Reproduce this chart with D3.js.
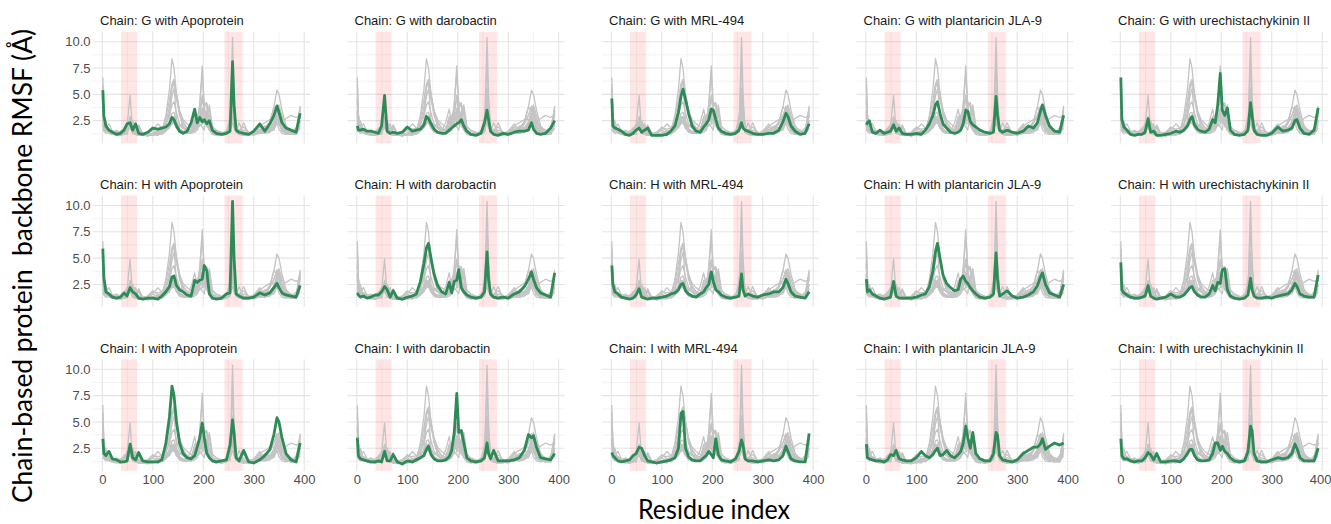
<!DOCTYPE html>
<html>
<head>
<meta charset="utf-8">
<script src="https://cdn.jsdelivr.net/npm/d3@7"></script>
<style>
  body { margin: 0; background: #fff; }
  svg text { font-family: "Liberation Sans", Arial, sans-serif; }
</style>
</head>
<body>
<div id="chart"></div>
<script>
// residue positions sampled along each trace
var residues = [1, 3, 7, 13, 20, 28, 36, 43, 49, 55,
    60, 66, 72, 80, 90, 100, 110, 118, 126, 133,
    138, 142, 147, 153, 160, 168, 176, 183, 188, 193,
    198, 202, 207, 212, 218, 226, 236, 246, 253, 258,
    261, 265, 271, 280, 290, 300, 312, 322, 332, 340,
    346, 350, 356, 364, 374, 384, 392];

var chains  = ['G', 'H', 'I'];
var ligands = ['Apoprotein', 'darobactin', 'MRL-494', 'plantaricin JLA-9', 'urechistachykinin II'];

// backbone RMSF (A), one array per chain / ligand
var gApo = [5.4, 3.0, 2.0, 1.6, 1.4, 1.2, 1.3, 1.6, 2.2, 2.3,
    1.6, 2.2, 1.3, 1.2, 1.4, 1.8, 1.7, 1.8, 1.9, 2.2,
    2.8, 2.6, 2.0, 1.5, 1.3, 1.5, 2.3, 3.6, 2.3, 2.8,
    2.4, 2.6, 2.2, 2.5, 1.6, 1.3, 1.2, 1.3, 1.5, 8.1,
    4.0, 1.6, 1.4, 1.3, 1.2, 1.5, 2.2, 1.5, 2.2, 3.0,
    3.9, 3.3, 2.3, 1.8, 1.6, 1.4, 3.2];
var gDaro = [2.0, 1.6, 1.6, 1.7, 1.5, 1.5, 1.4, 1.3, 2.0, 4.9,
    1.5, 1.3, 1.4, 1.3, 1.4, 1.9, 1.5, 1.6, 1.7, 2.1,
    2.9, 2.7, 2.2, 1.7, 1.4, 1.3, 1.3, 1.6, 1.8, 2.0,
    2.2, 2.3, 2.6, 2.0, 1.5, 1.2, 1.1, 1.3, 2.3, 3.5,
    2.6, 1.5, 1.2, 1.1, 1.3, 1.2, 1.4, 1.5, 1.5, 1.6,
    2.3, 1.7, 1.3, 1.2, 1.3, 1.8, 2.5];
var gMrl = [4.6, 2.0, 1.8, 1.7, 1.5, 1.2, 1.1, 1.3, 1.6, 1.8,
    1.4, 1.6, 1.8, 1.1, 1.1, 1.1, 1.2, 1.5, 2.0, 3.3,
    4.8, 5.5, 4.5, 3.2, 2.0, 1.5, 1.4, 1.9, 2.2, 2.6,
    3.6, 3.5, 2.6, 1.8, 1.5, 1.3, 1.2, 1.3, 1.6, 2.3,
    1.8, 1.6, 1.5, 1.3, 1.2, 1.2, 1.3, 1.3, 1.6, 2.4,
    3.2, 2.9, 2.0, 1.5, 1.2, 1.3, 2.2];
var gPlant = [2.1, 2.3, 2.5, 1.4, 1.3, 1.6, 1.3, 1.4, 1.5, 2.1,
    1.5, 1.8, 1.3, 1.2, 1.2, 1.3, 1.2, 1.6, 2.2, 3.0,
    4.0, 4.3, 3.2, 2.2, 1.8, 1.4, 1.3, 1.4, 1.6, 2.2,
    3.5, 3.4, 2.4, 2.1, 1.9, 1.6, 1.4, 1.3, 1.4, 4.8,
    3.0, 1.6, 1.4, 1.6, 1.4, 1.3, 1.5, 2.0, 1.8, 2.3,
    3.4, 4.0, 3.0, 2.0, 1.5, 1.4, 3.0];
var gUrech = [6.6, 2.6, 1.9, 1.6, 1.2, 1.1, 1.2, 1.2, 1.4, 2.7,
    1.4, 1.5, 1.1, 1.1, 1.2, 1.3, 1.5, 1.4, 1.6, 2.0,
    2.6, 2.9, 2.1, 1.7, 1.5, 1.4, 1.7, 2.6, 2.3, 4.0,
    7.0, 3.5, 3.0, 3.7, 1.6, 1.2, 1.1, 1.2, 1.6, 4.2,
    3.0, 1.6, 1.2, 1.1, 1.1, 1.3, 1.9, 1.5, 1.6, 1.8,
    2.5, 2.6, 1.8, 1.3, 1.2, 1.6, 3.7];
var hApo = [5.9, 3.2, 1.8, 1.6, 1.3, 1.2, 1.3, 1.7, 1.4, 2.2,
    1.8, 1.6, 1.2, 1.1, 1.2, 1.2, 1.1, 1.4, 1.8, 2.3,
    3.2, 3.3, 2.4, 2.0, 1.8, 1.5, 1.4, 2.9, 2.7, 2.9,
    3.0, 4.3, 3.8, 1.6, 1.2, 1.1, 1.2, 1.6, 1.7, 10.4,
    5.0, 1.6, 1.4, 1.2, 1.2, 1.3, 1.7, 1.5, 1.7, 2.2,
    2.6, 2.2, 1.7, 1.5, 1.4, 1.3, 2.4];
var hDaro = [1.7, 1.5, 1.3, 1.4, 1.2, 1.3, 1.5, 1.5, 1.8, 2.3,
    2.0, 1.3, 1.9, 1.2, 1.1, 1.3, 1.4, 1.6, 2.8, 4.5,
    6.0, 6.4, 5.0, 3.5, 2.4, 1.8, 1.6, 2.7, 1.7, 2.8,
    2.9, 3.9, 2.2, 1.8, 1.5, 1.3, 1.2, 1.3, 1.8, 5.6,
    3.0, 1.6, 1.3, 1.2, 1.3, 1.2, 1.6, 1.8, 2.3, 3.0,
    3.7, 3.0, 2.2, 1.7, 1.5, 1.3, 3.6];
var hMrl = [4.3, 2.5, 1.8, 1.6, 1.3, 1.2, 1.1, 1.2, 1.5, 2.1,
    1.3, 1.2, 1.1, 1.2, 1.2, 1.3, 1.4, 1.6, 1.7, 2.0,
    2.5, 2.6, 1.9, 1.6, 1.4, 1.3, 1.6, 1.8, 2.2, 2.5,
    3.7, 2.8, 2.0, 1.8, 1.5, 1.3, 1.2, 1.3, 1.4, 3.5,
    2.0, 1.4, 1.6, 1.4, 1.3, 1.5, 1.6, 1.8, 1.8, 2.2,
    3.0, 2.6, 1.8, 1.4, 1.3, 1.2, 1.8];
var hPlant = [3.0, 1.8, 2.0, 1.6, 1.4, 1.2, 1.1, 1.2, 1.3, 2.8,
    1.4, 1.2, 1.2, 1.2, 1.2, 1.3, 1.5, 1.6, 2.3, 3.8,
    5.6, 6.4, 5.0, 3.4, 2.6, 2.2, 1.9, 2.0, 3.0, 3.3,
    2.8, 2.6, 2.2, 1.9, 1.6, 1.3, 1.2, 1.3, 1.6, 5.5,
    3.0, 1.4, 1.6, 1.9, 1.4, 1.2, 1.3, 1.5, 1.8, 2.4,
    3.2, 3.6, 2.5, 1.7, 1.5, 1.3, 2.5];
var hUrech = [4.6, 2.0, 1.7, 1.5, 1.3, 1.2, 1.2, 1.3, 1.4, 2.4,
    1.4, 1.2, 1.1, 1.2, 1.3, 1.6, 1.3, 1.3, 1.5, 1.9,
    2.2, 2.3, 1.8, 1.5, 1.3, 1.3, 1.6, 2.4, 1.9, 2.7,
    2.6, 3.9, 4.0, 2.0, 1.4, 1.2, 1.1, 1.2, 1.5, 3.1,
    2.0, 1.4, 1.2, 1.2, 1.3, 1.2, 1.4, 1.5, 1.6, 2.0,
    2.6, 2.3, 1.6, 1.4, 1.3, 1.3, 3.4];
var iApo = [3.4, 2.0, 1.8, 2.2, 1.5, 1.4, 1.2, 1.2, 1.3, 2.9,
    1.6, 1.4, 2.1, 1.3, 1.2, 1.2, 1.2, 1.4, 3.0, 5.5,
    8.4, 7.5, 5.0, 3.0, 2.0, 1.6, 1.5, 1.8, 2.6, 3.5,
    4.9, 3.5, 2.0, 1.6, 1.3, 1.2, 1.3, 1.4, 2.8, 5.2,
    4.0, 1.6, 1.3, 2.3, 1.2, 1.1, 1.4, 1.8, 2.4, 3.8,
    5.4, 5.0, 3.5, 2.0, 1.4, 1.2, 3.0];
var iDaro = [3.5, 1.8, 1.5, 1.4, 1.3, 1.2, 1.2, 1.3, 1.2, 2.2,
    1.3, 1.3, 1.9, 1.2, 1.0, 1.3, 1.2, 1.4, 1.6, 1.8,
    2.4, 2.7, 1.9, 1.5, 1.3, 1.3, 1.4, 1.7, 2.3, 4.0,
    7.7, 4.0, 4.2, 3.0, 1.6, 1.3, 1.2, 1.3, 1.6, 3.0,
    2.0, 1.5, 2.3, 1.3, 1.3, 1.3, 1.4, 1.6, 2.3, 3.8,
    3.5, 3.7, 2.6, 1.6, 1.5, 1.4, 2.0];
var iMrl = [2.1, 1.8, 1.6, 1.3, 1.2, 1.3, 1.4, 1.8, 2.0, 2.6,
    2.5, 1.8, 1.3, 1.2, 1.1, 1.2, 1.3, 1.4, 1.6, 2.5,
    5.8, 6.0, 2.5, 1.7, 1.4, 1.3, 1.3, 1.6, 1.8, 2.2,
    1.9, 1.6, 3.4, 1.9, 1.4, 1.3, 1.2, 1.5, 2.2, 3.3,
    2.8, 1.5, 1.3, 1.3, 1.2, 1.3, 1.4, 1.3, 1.4, 1.8,
    2.7, 2.2, 1.5, 1.3, 1.2, 1.2, 3.9];
var iPlant = [2.9, 1.6, 1.5, 1.4, 1.3, 1.3, 1.2, 1.4, 1.9, 1.8,
    2.3, 1.5, 1.4, 1.3, 1.3, 1.6, 2.2, 1.8, 1.6, 1.9,
    2.3, 2.5, 1.8, 1.9, 2.3, 1.8, 1.6, 1.9, 2.2, 3.0,
    4.6, 3.5, 2.5, 4.0, 2.0, 1.5, 1.3, 1.3, 2.0, 4.0,
    3.7, 1.8, 1.4, 1.3, 1.2, 1.4, 2.0, 2.3, 2.6, 2.6,
    2.9, 3.4, 2.4, 2.7, 3.0, 2.8, 3.0];
var iUrech = [3.4, 1.8, 1.5, 1.5, 1.3, 1.2, 1.3, 1.3, 1.6, 2.1,
    1.9, 1.4, 2.0, 1.2, 1.2, 1.3, 1.3, 1.2, 1.5, 2.0,
    2.4, 2.4, 1.8, 1.4, 1.3, 1.3, 1.4, 2.0, 3.0, 3.0,
    2.3, 2.7, 2.2, 2.0, 1.6, 1.3, 1.2, 1.3, 2.2, 4.6,
    4.2, 2.0, 1.3, 1.2, 1.2, 1.4, 1.6, 1.5, 1.6, 2.0,
    2.9, 2.5, 1.6, 1.3, 1.3, 1.3, 2.5];

var rmsf = [
    [gApo, gDaro, gMrl, gPlant, gUrech],
    [hApo, hDaro, hMrl, hPlant, hUrech],
    [iApo, iDaro, iMrl, iPlant, iUrech]
];

// shaded residue windows
var bands = [[37, 69], [242, 278]];

var xTicks      = [0, 100, 200, 300, 400],
    xMinorTicks = [50, 150, 250, 350],
    yTicks      = [2.5, 5, 7.5, 10],
    yMinorTicks = [1.25, 3.75, 6.25, 8.75];

var width   = 1331,
    height  = 524,
    panelW  = 217,
    panelH  = 111.6,
    left0   = 93,
    top0    = 31.7,
    colStep = 254.5,
    rowStep = 163.8;

var svg = d3.select('#chart').append('svg')
    .attr('width', width)
    .attr('height', height);

var x = d3.scaleLinear().domain([-18.5, 411.5]).range([0, panelW]),
    y = d3.scaleLinear().domain([0.35, 10.95]).range([panelH, 0]);

var line = d3.line()
    .x(function(d) { return x(d[0]); })
    .y(function(d) { return y(d[1]); });

function toPoints(values) {
    return residues.map(function(r, i) { return [r, values[i]]; });
}

var allTraces = [];
rmsf.forEach(function(row) {
    row.forEach(function(v) { allTraces.push(toPoints(v)); });
});

chains.forEach(function(chain, r) {
    ligands.forEach(function(lig, c) {
        var g = svg.append('g')
            .attr('transform', 'translate(' + (left0 + c * colStep) + ',' + (top0 + r * rowStep) + ')');

        // minor grid
        g.selectAll('.xminor').data(xMinorTicks).enter().append('line')
            .attr('x1', x).attr('x2', x).attr('y1', 0).attr('y2', panelH)
            .style('stroke', '#f0f0f0').style('stroke-width', 0.8);
        g.selectAll('.yminor').data(yMinorTicks).enter().append('line')
            .attr('y1', y).attr('y2', y).attr('x1', 0).attr('x2', panelW)
            .style('stroke', '#f0f0f0').style('stroke-width', 0.8);
        // major grid
        g.selectAll('.xmajor').data(xTicks).enter().append('line')
            .attr('x1', x).attr('x2', x).attr('y1', 0).attr('y2', panelH)
            .style('stroke', '#e4e4e4').style('stroke-width', 1.1);
        g.selectAll('.ymajor').data(yTicks).enter().append('line')
            .attr('y1', y).attr('y2', y).attr('x1', 0).attr('x2', panelW)
            .style('stroke', '#e4e4e4').style('stroke-width', 1.1);

        g.selectAll('.band').data(bands).enter().append('rect')
            .attr('x', function(d) { return x(d[0]); })
            .attr('width', function(d) { return x(d[1]) - x(d[0]); })
            .attr('y', 0)
            .attr('height', panelH)
            .style('fill', '#ff0000')
            .style('fill-opacity', 0.1);

        g.selectAll('.others').data(allTraces).enter().append('path')
            .attr('d', line)
            .style('fill', 'none')
            .style('stroke', '#c4c4c4')
            .style('stroke-width', 1.3)
            .style('stroke-linejoin', 'round');

        g.append('path')
            .attr('d', line(toPoints(rmsf[r][c])))
            .style('fill', 'none')
            .style('stroke', '#2e8b57')
            .style('stroke-width', 2.8)
            .style('stroke-linejoin', 'round');

        g.append('text')
            .attr('x', 7)
            .attr('y', -6.5)
            .style('font-size', '13px')
            .style('fill', '#1a1a1a')
            .text('Chain: ' + chain + ' with ' + lig);

        if (c === 0) {
            var ya = g.append('g')
                .call(d3.axisLeft(y).tickValues(yTicks).tickFormat(d3.format('.1f')).tickSize(0).tickPadding(2.5));
            ya.select('.domain').remove();
            ya.selectAll('text').style('font-size', '13px').style('fill', '#4d4d4d')
                .style('font-family', '"Liberation Sans", Arial, sans-serif');
        }
        if (r === chains.length - 1) {
            var xa = g.append('g')
                .attr('transform', 'translate(0,' + panelH + ')')
                .call(d3.axisBottom(x).tickValues(xTicks).tickSize(0).tickPadding(3.8));
            xa.select('.domain').remove();
            xa.selectAll('text').style('font-size', '13px').style('fill', '#4d4d4d')
                .style('font-family', '"Liberation Sans", Arial, sans-serif');
            // keep the last label of the last column inside the page
            if (c === ligands.length - 1) {
                xa.selectAll('text').filter(function(d) { return d === 400; }).attr('dx', -2);
            }
        }
    });
});

svg.append('text')
    .attr('transform', 'translate(32,266) rotate(-90)')
    .attr('text-anchor', 'middle')
    .attr('textLength', 474)
    .attr('lengthAdjust', 'spacingAndGlyphs')
    .style('font-family', 'Lato, "Open Sans", sans-serif')
    .style('font-size', '27px')
    .style('white-space', 'pre')
    .style('fill', '#000')
    .text('Chain-based protein  backbone RMSF (\u00c5)');

svg.append('text')
    .attr('x', 714)
    .attr('y', 519)
    .attr('text-anchor', 'middle')
    .attr('textLength', 152)
    .attr('lengthAdjust', 'spacingAndGlyphs')
    .style('font-family', 'Lato, "Open Sans", sans-serif')
    .style('font-size', '27px')
    .style('fill', '#000')
    .text('Residue index');
</script>
</body>
</html>
